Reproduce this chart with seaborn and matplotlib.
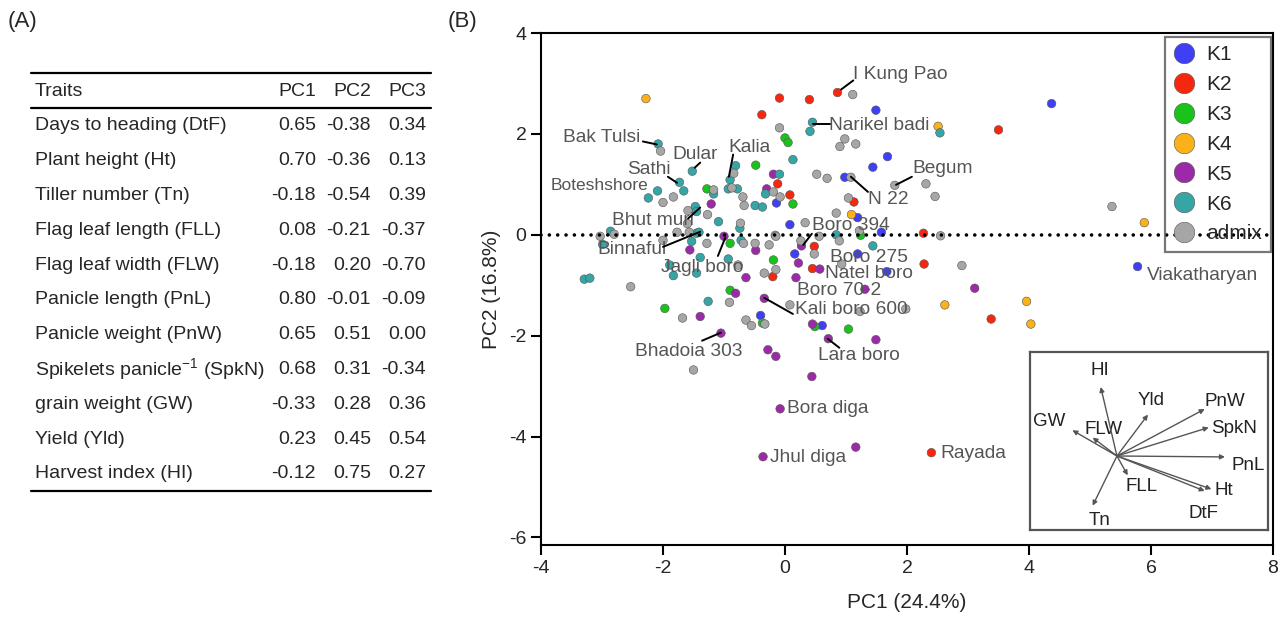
import pandas as pd
import matplotlib.pyplot as plt
import seaborn as sns

# ---- panel A: loadings table ----
traits = ["Days to heading (DtF)", "Plant height (Ht)", "Tiller number (Tn)",
          "Flag leaf length (FLL)", "Flag leaf width (FLW)", "Panicle length (PnL)",
          "Panicle weight (PnW)", r"Spikelets panicle$^{\mathregular{-1}}$ (SpkN)",
          "grain weight (GW)", "Yield (Yld)", "Harvest index (HI)"]
codes = ["DtF", "Ht", "Tn", "FLL", "FLW", "PnL", "PnW", "SpkN", "GW", "Yld", "HI"]
pc1 = [0.65, 0.70, -0.18, 0.08, -0.18, 0.80, 0.65, 0.68, -0.33, 0.23, -0.12]
pc2 = [-0.38, -0.36, -0.54, -0.21, 0.20, -0.01, 0.51, 0.31, 0.28, 0.45, 0.75]
pc3 = [0.34, 0.13, 0.39, -0.37, -0.70, -0.09, 0.00, -0.34, 0.36, 0.54, 0.27]

# ---- panel B: PCA scores by cluster ----
groups = ["K1", "K2", "K3", "K4", "K5", "K6", "admix"]
colors = ["#3f3ff5", "#f5280f", "#19c319", "#fbb117", "#9c2aa8", "#35a5a5", "#a6a6a6"]

k1 = [(-0.14, 0.63), (0.08, 0.20), (1.49, 2.47), (1.68, 1.55), (1.44, 1.34), (0.98, 1.14),
      (1.19, 0.34), (1.58, 0.05), (0.16, -0.38), (1.19, -0.38), (1.67, -0.73), (-0.40, -1.60),
      (0.61, -1.80), (4.37, 2.60), (5.78, -0.63)]
k2 = [(-0.09, 2.71), (-0.38, 2.38), (0.86, 2.82), (0.40, 2.68), (3.50, 2.08), (-0.12, 1.01),
      (0.08, 0.79), (1.13, 0.65), (2.27, 0.03), (0.48, -0.23), (0.45, -0.67), (2.28, -0.58),
      (-0.20, -0.83), (3.38, -1.67), (2.40, -4.32)]
k3 = [(0.00, 1.92), (0.05, 1.83), (-0.48, 1.38), (-1.28, 0.91), (0.13, 0.61), (1.24, -0.01),
      (-0.90, -0.17), (-0.19, -0.50), (-0.90, -1.10), (-1.97, -1.46), (-0.37, -1.75),
      (0.49, -1.82), (1.04, -1.87)]
k4 = [(-2.28, 2.70), (2.51, 2.15), (1.09, 0.40), (5.89, 0.24), (2.62, -1.39), (3.96, -1.32),
      (4.03, -1.77)]
k5 = [(-0.19, 1.20), (-0.30, 0.91), (-1.21, 0.61), (-1.00, -0.03), (-1.56, -0.30),
      (-0.48, -0.31), (0.27, -0.22), (0.22, -0.56), (0.57, -0.68), (-0.64, -0.85), (0.18, -0.85),
      (1.31, -1.08), (3.11, -1.06), (-0.81, -1.16), (-0.34, -1.26), (-1.39, -1.62), (0.45, -1.77),
      (-1.05, -1.95), (0.71, -2.06), (1.49, -2.08), (-0.28, -2.28), (-0.15, -2.41), (0.44, -2.81),
      (-0.08, -3.45), (-0.36, -4.40), (1.16, -4.21)]
k6 = [(-2.08, 1.80), (-1.52, 1.26), (-0.81, 1.37), (-0.90, 1.09), (-0.09, 1.20), (-1.73, 1.04),
      (-1.66, 0.87), (-2.09, 0.87), (-2.24, 0.73), (-1.17, 0.81), (-0.93, 0.91), (-0.78, 0.91),
      (-0.32, 0.81), (-0.49, 0.58), (-0.37, 0.55), (-1.47, 0.56), (-1.45, 0.46), (-1.09, 0.26),
      (-0.74, 0.13), (-2.86, 0.07), (-1.45, 0.03), (-1.41, 0.05), (-1.53, -0.13), (-1.39, -0.45),
      (-0.72, -0.11), (-0.93, -0.48), (-1.83, -0.81), (-1.45, -0.76), (-1.89, -0.60),
      (-3.29, -0.88), (-3.20, -0.86), (-2.99, -0.19), (-1.26, -1.32), (0.45, 2.23), (0.41, 2.05),
      (2.54, 2.02), (0.13, 1.49), (0.84, 0.00), (1.44, -0.22)]
admix = [(-0.09, 2.12), (-2.04, 1.66), (-0.84, 1.22), (1.11, 2.78), (0.98, 1.90), (0.90, 1.75),
         (1.16, 1.80), (0.52, 1.20), (0.69, 1.12), (1.08, 1.14), (1.80, 0.98), (2.31, 1.01),
         (2.46, 0.76), (1.04, 0.73), (0.84, 0.43), (0.33, 0.24), (-1.83, 0.75), (-2.00, 0.64),
         (-1.17, 0.89), (-0.87, 0.93), (-0.19, 0.85), (-0.08, 0.75), (-0.69, 0.75), (-0.67, 0.58),
         (-1.59, 0.48), (-1.27, 0.40), (-0.73, 0.23), (-1.60, 0.22), (-2.80, 0.01), (-3.03, -0.03),
         (-1.77, 0.05), (-1.57, 0.05), (-0.16, -0.01), (-2.00, -0.11), (-1.28, -0.17),
         (-0.68, -0.17), (-0.49, -0.17), (-0.26, -0.20), (-0.15, -0.03), (-0.77, -0.60),
         (-0.34, -0.76), (-0.15, -0.69), (-2.53, -1.03), (0.26, -0.12), (0.56, -0.03),
         (0.89, -0.12), (2.55, -0.02), (0.48, -0.38), (0.93, -0.58), (2.90, -0.61), (0.08, -1.39),
         (1.23, -1.52), (1.98, -1.47), (-0.91, -1.34), (-1.68, -1.65), (-0.64, -1.69),
         (-0.55, -1.80), (-0.33, -1.77), (-1.50, -2.68), (5.36, 0.56), (1.22, 0.08)]

# named accessions: name -> (text x, text y, leader start, leader end)
names = {
    "I Kung Pao": (1.12, 3.17, (0.92, 2.88), (1.12, 3.06)),
    "Narikel badi": (0.72, 2.16, (0.46, 2.20), (0.74, 2.20)),
    "Bak Tulsi": (-3.64, 1.92, (-2.33, 1.85), (-2.10, 1.79)),
    "Dular": (-1.84, 1.59, (-1.48, 1.33), (-1.39, 1.43)),
    "Kalia": (-0.93, 1.73, (-0.85, 1.59), (-0.92, 1.15)),
    "Sathi": (-2.59, 1.29, (-1.92, 1.15), (-1.77, 1.03)),
    "Boteshshore": (-3.85, 0.97, None, None),
    "Bhut muri": (-2.84, 0.28, (-1.59, 0.32), (-1.39, 0.54)),
    "Binnaful": (-3.07, -0.30, (-2.00, -0.24), (-1.39, 0.06)),
    "Jagli boro": (-2.03, -0.65, (-1.10, -0.42), (-0.98, -0.06)),
    "Boro 394": (0.44, 0.18, (0.44, 0.02), (0.30, -0.20)),
    "Boro 275": (0.74, -0.46, None, None),
    "Natel boro": (0.66, -0.76, None, None),
    "Boro 70-2": (0.20, -1.11, None, None),
    "Kali boro 600": (0.16, -1.49, (-0.34, -1.25), (0.13, -1.57)),
    "Lara boro": (0.54, -2.40, (0.70, -2.06), (0.89, -2.24)),
    "Bhadoia 303": (-2.46, -2.32, (-1.05, -1.94), (-1.36, -2.10)),
    "Bora diga": (0.03, -3.45, None, None),
    "Jhul diga": (-0.25, -4.42, None, None),
    "Rayada": (2.54, -4.33, None, None),
    "Viakatharyan": (5.93, -0.81, None, None),
    "Begum": (2.08, 1.31, (1.82, 0.99), (2.08, 1.15)),
    "N 22": (1.36, 0.69, (1.08, 1.15), (1.36, 0.85)),
}

rows = []
for g, pts in zip(groups, [k1, k2, k3, k4, k5, k6, admix]):
    for x, y in pts:
        rows.append({"PC1": x, "PC2": y, "group": g})
scores = pd.DataFrame(rows)

sns.set_style("ticks")
plt.rcParams["font.family"] = ["Liberation Sans", "DejaVu Sans"]
plt.rcParams["mathtext.fontset"] = "custom"
plt.rcParams["mathtext.rm"] = "Liberation Sans"
plt.rcParams["axes.unicode_minus"] = False

W, H = 1286, 617
fig = plt.figure(figsize=(W / 100, H / 100), dpi=100)


def px(x, y):
    return x / W, 1 - y / H


# ---- table ----
fig.text(*px(8, 22), "(A)", fontsize=16, va="center")
fig.text(*px(448, 22), "(B)", fontsize=16, va="center")
for yl in [73, 108, 491]:
    fig.add_artist(plt.Line2D([31 / W, 431 / W], [1 - yl / H] * 2, color="black", lw=1.6))
fig.text(*px(35, 92), "Traits", fontsize=14, va="center")
for hdr, xr in zip(["PC1", "PC2", "PC3"], [316, 371, 426]):
    fig.text(*px(xr, 92), hdr, fontsize=14, va="center", ha="right")
for i, t in enumerate(traits):
    yy = 126 + i * 34.8
    fig.text(*px(35, yy), t, fontsize=14, va="center")
    for v, xr in zip([pc1[i], pc2[i], pc3[i]], [316, 371, 426]):
        fig.text(*px(xr, yy), f"{v:.2f}", fontsize=14, va="center", ha="right")

# ---- scatter ----
ax = fig.add_axes([541 / W, 1 - 545 / H, 732 / W, 512 / H])
sns.scatterplot(data=scores, x="PC1", y="PC2", hue="group", hue_order=groups,
                palette=dict(zip(groups, colors)), s=38, edgecolor="#555555",
                linewidth=0.4, ax=ax, zorder=3)
ax.axhline(0, color="black", lw=2.6, linestyle=(0, (0.01, 2.3)),
           dash_capstyle="round", zorder=5)
for name, (tx, ty, a, b) in names.items():
    ax.text(tx, ty, name, fontsize=13.8 if name != "Boteshshore" else 12.5,
            color="#555555", va="center", zorder=4)
    if a is not None:
        ax.plot([a[0], b[0]], [a[1], b[1]], color="black", lw=1.4, zorder=4)

ax.set_xlim(-4, 8)
ax.set_ylim(-6.15, 4)
ax.set_xticks(range(-4, 9, 2))
ax.set_yticks(range(-6, 5, 2))
ax.tick_params(labelsize=14, length=7, width=1.5, color="black")
for sp in ax.spines.values():
    sp.set_linewidth(1.5)
    sp.set_color("black")
ax.set_xlabel("PC1 (24.4%)", fontsize=15, labelpad=12)
ax.set_ylabel("PC2 (16.8%)", fontsize=15, labelpad=6)

handles, labels = ax.get_legend_handles_labels()
leg = ax.legend(handles, labels, loc="upper right", bbox_to_anchor=(0.997, 0.992),
                borderaxespad=0, markerscale=2.4, fontsize=15, frameon=True,
                fancybox=False, handlelength=1.0, handletextpad=0.6,
                labelspacing=0.52, borderpad=0.4)
leg.get_frame().set_facecolor("none")
leg.get_frame().set_edgecolor("#555555")
leg.get_frame().set_linewidth(1.6)

# ---- loading biplot inset ----
label_pos = {"DtF": (0.64, -0.62), "Ht": (0.79, -0.37), "Tn": (-0.13, -0.70),
             "FLL": (0.18, -0.33), "FLW": (-0.10, 0.29), "PnL": (0.97, -0.10),
             "PnW": (0.80, 0.59), "SpkN": (0.87, 0.30), "GW": (-0.50, 0.37),
             "Yld": (0.25, 0.60), "HI": (-0.13, 0.93)}
ins = fig.add_axes([1030 / W, 1 - 530 / H, 238 / W, 178 / H])
ins.set_xlim(-0.644, 1.119)
ins.set_ylim(-0.804, 1.13)
ins.set_xticks([])
ins.set_yticks([])
for sp in ins.spines.values():
    sp.set_color("#555555")
    sp.set_linewidth(1.6)
for c, x, y in zip(codes, pc1, pc2):
    ins.annotate("", xy=(x, y), xytext=(0, 0),
                 arrowprops=dict(arrowstyle="-|>", color="#555555", lw=1.0,
                                 mutation_scale=7, shrinkA=0, shrinkB=0))
    ins.text(*label_pos[c], c, fontsize=13.5, color="#222222", ha="center", va="center")

fig.savefig("out.png", dpi=100)
